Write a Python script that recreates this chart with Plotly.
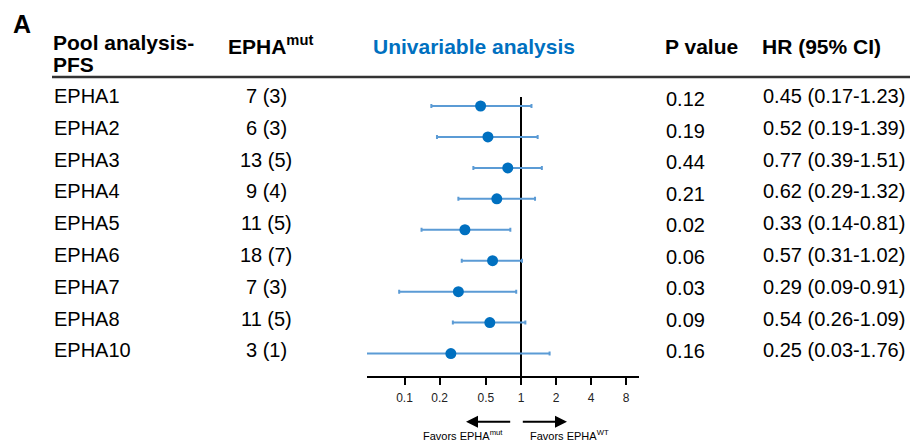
import plotly.graph_objects as go

genes = ["EPHA1", "EPHA2", "EPHA3", "EPHA4", "EPHA5", "EPHA6", "EPHA7", "EPHA8", "EPHA10"]
mut_counts = ["7 (3)", "6 (3)", "13 (5)", "9 (4)", "11 (5)", "18 (7)", "7 (3)", "11 (5)", "3 (1)"]
p_values = ["0.12", "0.19", "0.44", "0.21", "0.02", "0.06", "0.03", "0.09", "0.16"]
hr = [0.45, 0.52, 0.77, 0.62, 0.33, 0.57, 0.29, 0.54, 0.25]
ci_low = [0.17, 0.19, 0.39, 0.29, 0.14, 0.31, 0.09, 0.26, 0.03]
ci_high = [1.23, 1.39, 1.51, 1.32, 0.81, 1.02, 0.91, 1.09, 1.76]
tick_vals = [0.1, 0.2, 0.5, 1, 2, 4, 8]
tick_text = ["0.1", "0.2", "0.5", "1", "2", "4", "8"]

W, H = 913, 443
FONT = "Liberation Sans, Arial, sans-serif"
BLUE = "#0070C0"
ERR = "#5B9BD5"

rows = list(range(len(genes)))
row0_px, row_step = 106.0, 30.94
axis_px = 376.0
y_top = -row0_px / row_step
y_bot = (axis_px - row0_px) / row_step

fig = go.Figure()

# reference line at HR = 1
fig.add_trace(go.Scatter(
    x=[1, 1], y=[(97 - row0_px) / row_step, y_bot], mode="lines",
    line=dict(color="black", width=2), hoverinfo="skip", showlegend=False,
    cliponaxis=False))

fig.add_trace(go.Scatter(
    x=hr, y=rows, mode="markers",
    marker=dict(color=BLUE, size=11),
    error_x=dict(type="data", symmetric=False,
                 array=[h - m for h, m in zip(ci_high, hr)],
                 arrayminus=[m - l for m, l in zip(hr, ci_low)],
                 color=ERR, thickness=2, width=2),
    showlegend=False, cliponaxis=False))

ann = []
def txt(x, y, s, size=20, xanchor="left", yref="paper", yshift=0, color="black", xref="paper"):
    ann.append(dict(x=x, y=y, xref=xref, yref=yref, text=s, showarrow=False,
                    xanchor=xanchor, yanchor="middle", yshift=yshift,
                    font=dict(family=FONT, size=size, color=color)))

def px_y(p):
    return 1 - p / H

def px_x(p):
    return p / W

# panel letter and headers
txt(px_x(11), px_y(24), "<b>A</b>", size=25)
txt(px_x(51), px_y(42), "<b>Pool analysis-</b>", size=21)
txt(px_x(51), px_y(64.5), "<b>PFS</b>", size=21)
txt(px_x(270), px_y(45), "<b>EPHA<sup>mut</sup></b>", size=21, xanchor="center")
txt(px_x(474), px_y(47), "<b>Univariable analysis</b>", size=21, xanchor="center", color=BLUE)
txt(px_x(663), px_y(47), "<b>P value</b>", size=21)
txt(px_x(760), px_y(47), "<b>HR (95% CI)</b>", size=21)

# table rows
for i in rows:
    s = 10 - 0.85 * i
    sp = 7 - 0.6 * i
    txt(px_x(52), i, genes[i], yref="y", yshift=s)
    txt(px_x(266), i, mut_counts[i], xanchor="center", yref="y", yshift=s)
    txt(px_x(664), i, p_values[i], yref="y", yshift=sp)
    txt(px_x(761), i, f"{hr[i]:.2f} ({ci_low[i]:.2f}-{ci_high[i]:.2f})", yref="y", yshift=s)

# favour arrows
arrow_y = px_y(421.7)
ann.append(dict(x=px_x(466), y=arrow_y, xref="paper", yref="paper", text="",
                showarrow=True, ax=45.7, ay=0, arrowhead=2, arrowsize=1.2,
                arrowwidth=2, arrowcolor="black"))
ann.append(dict(x=px_x(567), y=arrow_y, xref="paper", yref="paper", text="",
                showarrow=True, ax=-45.7, ay=0, arrowhead=2, arrowsize=1.2,
                arrowwidth=2, arrowcolor="black"))
txt(px_x(463), px_y(435), "Favors EPHA<sup>mut</sup>", size=11, xanchor="center")
txt(px_x(569), px_y(435), "Favors EPHA<sup>WT</sup>", size=11, xanchor="center")

fig.update_layout(
    width=W, height=H, margin=dict(l=0, r=0, t=0, b=0),
    paper_bgcolor="white", plot_bgcolor="white",
    annotations=ann,
    shapes=[dict(type="line", xref="paper", yref="paper",
                 x0=px_x(52), x1=px_x(910), y0=px_y(77), y1=px_y(77),
                 line=dict(color="#333333", width=2.5))],
    xaxis=dict(type="log", range=[-1.322, 1.013],
               domain=[367 / W, 639 / W],
               tickvals=tick_vals, ticktext=tick_text,
               tickfont=dict(family=FONT, size=12, color="#222222"),
               ticks="outside", ticklen=7, tickwidth=2, tickcolor="black",
               ticklabelstandoff=3,
               showline=True, linewidth=2, linecolor="black",
               showgrid=False, zeroline=False, fixedrange=True),
    yaxis=dict(range=[y_bot, y_top], domain=[(H - axis_px) / H, 1],
               visible=False, showgrid=False, zeroline=False, fixedrange=True),
)

fig.write_html("out.html", config={"displayModeBar": False},
               post_script="document.body.style.margin='0';document.body.style.overflow='hidden';")
